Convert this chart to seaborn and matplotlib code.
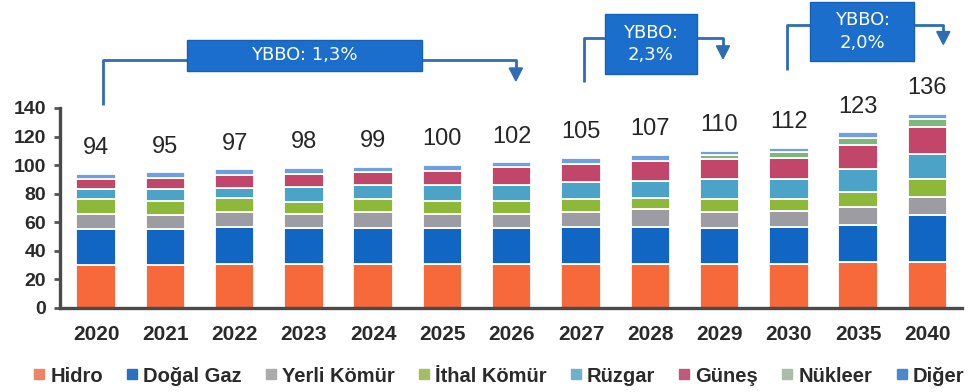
import numpy as np
import pandas as pd
import matplotlib
matplotlib.use("Agg")
import matplotlib.pyplot as plt
from matplotlib.lines import Line2D
from matplotlib.patches import Rectangle, FancyArrow
import seaborn as sns

# --- data -------------------------------------------------------------
years = ["2020", "2021", "2022", "2023", "2024", "2025", "2026",
         "2027", "2028", "2029", "2030", "2035", "2040"]
totals = [94, 95, 97, 98, 99, 100, 102, 105, 107, 110, 112, 123, 136]

hidro       = [30, 30, 31, 31, 31, 31, 31, 31, 31, 31, 31, 32, 32]
dogal_gaz   = [25, 25, 26, 25, 25, 25, 25, 26, 26, 25, 26, 26, 33]
yerli_komur = [11, 10, 10, 10, 11, 10, 10, 10, 12, 11, 11, 13, 13]
ithal_komur = [10, 10, 10,  8,  9,  9,  9,  9,  8,  9,  8, 10, 12]
ruzgar      = [ 7,  8,  7, 11, 10, 11, 11, 12, 12, 14, 14, 16, 18]
gunes       = [ 7,  8,  9,  9,  9, 10, 13, 13, 14, 14, 15, 17, 19]
nukleer     = [ 0,  0,  0,  0,  0,  0,  0,  0,  0,  3,  4,  5,  5]
diger       = [ 4,  4,  4,  4,  4,  4,  3,  4,  4,  3,  3,  4,  4]

series_names = ["Hidro", "Doğal Gaz", "Yerli Kömür", "İthal Kömür",
                "Rüzgar", "Güneş", "Nükleer", "Diğer"]
series_values = [hidro, dogal_gaz, yerli_komur, ithal_komur,
                 ruzgar, gunes, nukleer, diger]
colors = ["#F7683A", "#1166C4", "#9C9CA2", "#8DB83A",
          "#4CA3C8", "#C2456A", "#7DB87A", "#6E9FE2"]
legend_colors = ["#EE8466", "#2B6FC2", "#ABABAE", "#A2C063",
                 "#6DB2CB", "#BE5A7C", "#AABDAA", "#4C88D0"]

growth = [("YBBO: 1,3%", 0, 6), ("YBBO:\n2,3%", 7, 9), ("YBBO:\n2,0%", 10, 12)]

df = pd.DataFrame(dict(zip(series_names, series_values)), index=years)

# --- style ------------------------------------------------------------
sns.set_theme(style="white")
plt.rcParams["font.family"] = ["Liberation Sans", "DejaVu Sans"]

fig = plt.figure(figsize=(9.74, 3.92), dpi=100)
ax = fig.add_axes([0.0616, 0.2143, 0.9261, 0.7857])

x = np.arange(len(years))
bottom = np.zeros(len(years))
for name, col in zip(series_names, colors):
    vals = df[name].to_numpy(dtype=float)
    ax.bar(x, vals, bottom=bottom, width=0.57, color=col,
           edgecolor="white", linewidth=1.3, zorder=2)
    bottom += vals

for xi, t in zip(x, totals):
    ax.text(xi, t + 18, f"{t}", ha="center", va="center",
            fontsize=17, color="#262626")

ax.set_xlim(-0.52, 12.5)
ax.set_ylim(0, 215.6)
ax.set_xticks(x)
ax.set_xticklabels(years, fontsize=15, fontweight="bold", color="#2a2a2a")
ax.set_yticks(np.arange(0, 141, 20))
ax.set_yticklabels([str(v) for v in range(0, 141, 20)], fontsize=14,
                   fontweight="bold", color="#2a2a2a")
ax.tick_params(axis="x", length=0, pad=12)
ax.tick_params(axis="y", length=4, width=2, color="#555555", pad=6, left=True)

for side in ["top", "right"]:
    ax.spines[side].set_visible(False)
ax.spines["left"].set_bounds(0, 140)
ax.spines["left"].set_color("#4a4a4a")
ax.spines["left"].set_linewidth(2.4)
ax.spines["bottom"].set_color("#4a4a4a")
ax.spines["bottom"].set_linewidth(2.4)

# --- growth-rate callouts --------------------------------------------
line_col = "#2E6DB4"
box_col = "#1B6ECC"
callouts = [
    # (x_left_line, y_low, y_line, box x0, box x1, box y0, box y1, x_arrow, y_arrow_end)
    (0.10, 142.1, 173.6, 1.31, 4.71, 165.9, 187.6, 6.06, 159.0),
    (7.04, 158.2, 189.0, 7.35, 8.67, 163.8, 205.8, 9.05, 174.5),
    (9.97, 166.6, 198.1, 10.31, 11.81, 172.9, 214.2, 12.23, 184.5),
]
for (label, _, _), c in zip(growth, callouts):
    xl, ylo, yl, bx0, bx1, by0, by1, xa, ya = c
    ax.plot([xl, xl, bx0], [ylo, yl, yl], color=line_col, lw=2,
            clip_on=False, zorder=3, solid_capstyle="butt")
    ax.plot([bx1, xa, xa], [yl, yl, ya + 8], color=line_col, lw=2,
            clip_on=False, zorder=3, solid_capstyle="butt")
    ax.add_patch(FancyArrow(xa, ya + 9, 0, -9, width=0.0,
                            head_width=0.19, head_length=9,
                            length_includes_head=True, color=line_col,
                            clip_on=False, zorder=3))
    ax.add_patch(Rectangle((bx0, by0), bx1 - bx0, by1 - by0,
                           facecolor=box_col, edgecolor="#1760B5", lw=1,
                           clip_on=False, zorder=4))
    ax.text((bx0 + bx1) / 2, (by0 + by1) / 2, label, ha="center",
            va="center", color="white", fontsize=13, linespacing=1.3,
            family="DejaVu Sans", zorder=5)

# --- legend -----------------------------------------------------------
handles = [Line2D([], [], marker="s", linestyle="none", markersize=7,
                  markerfacecolor=c, markeredgecolor=c) for c in legend_colors]
fig.legend(handles, series_names, loc="center", ncol=8,
           bbox_to_anchor=(0.512, 1 - 376 / 392), frameon=False,
           prop={"size": 14.5, "weight": "bold"},
           handlelength=0.6, handletextpad=0.25, columnspacing=1.15,
           labelcolor="#2a2a2a")

fig.savefig("out.png", dpi=100)
